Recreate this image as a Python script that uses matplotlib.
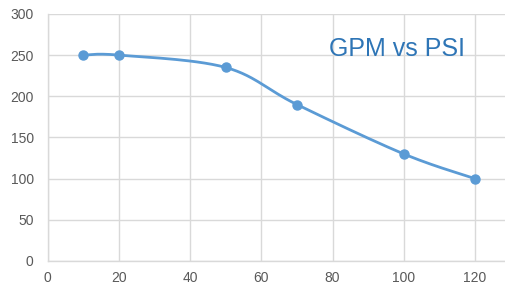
import numpy as np
import matplotlib.pyplot as plt

# GPM vs PSI readings
psi = [10, 20, 50, 70, 100, 120]
gpm = [250, 250, 235, 190, 130, 100]

x_ticks = [0, 20, 40, 60, 80, 100, 120]
y_ticks = [0, 50, 100, 150, 200, 250, 300]


def smooth(xs, ys, n=30):
    # Excel-like smoothed line (Catmull-Rom bezier between the points)
    p = np.column_stack([xs, ys]).astype(float)
    p = np.vstack([p[0], p, p[-1]])
    out = []
    t = np.linspace(0, 1, n)[:, None]
    for i in range(1, len(p) - 2):
        p0, p1, p2, p3 = p[i - 1], p[i], p[i + 1], p[i + 2]
        c1 = p1 + (p2 - p0) / 6
        c2 = p2 - (p3 - p1) / 6
        seg = ((1 - t) ** 3) * p1 + 3 * ((1 - t) ** 2) * t * c1 + 3 * (1 - t) * t ** 2 * c2 + t ** 3 * p2
        out.append(seg)
    out = np.vstack(out)
    return out[:, 0], out[:, 1]


plt.rcParams['font.family'] = ['Liberation Sans', 'DejaVu Sans']

fig = plt.figure(figsize=(5.06, 2.84), dpi=100)
ax = fig.add_axes([0.094, 0.081, 0.906, 0.870])

sx, sy = smooth(psi, gpm)
ax.plot(sx, sy, color='#5B9BD5', lw=2, solid_capstyle='round', zorder=3)
ax.plot(psi, gpm, 'o', color='#5B9BD5', ms=6.5, zorder=4)

ax.set_xlim(0, 128.7)
ax.set_ylim(0, 300)
ax.set_xticks(x_ticks)
ax.set_yticks(y_ticks)
ax.grid(True, color='#D9D9D9', lw=1)
ax.set_axisbelow(True)
for s in ['top', 'right']:
    ax.spines[s].set_visible(False)
for s in ['left', 'bottom']:
    ax.spines[s].set_color('#D9D9D9')
    ax.spines[s].set_linewidth(1)
ax.tick_params(length=0, labelsize=10, labelcolor='#595959')
ax.tick_params(axis='y', pad=10)
ax.tick_params(axis='x', pad=7)

ax.text(0.762, 0.86, 'GPM vs PSI', transform=ax.transAxes, ha='center', va='center',
        fontsize=18, color='#2E75B6')

fig.savefig('out.png', dpi=100)
